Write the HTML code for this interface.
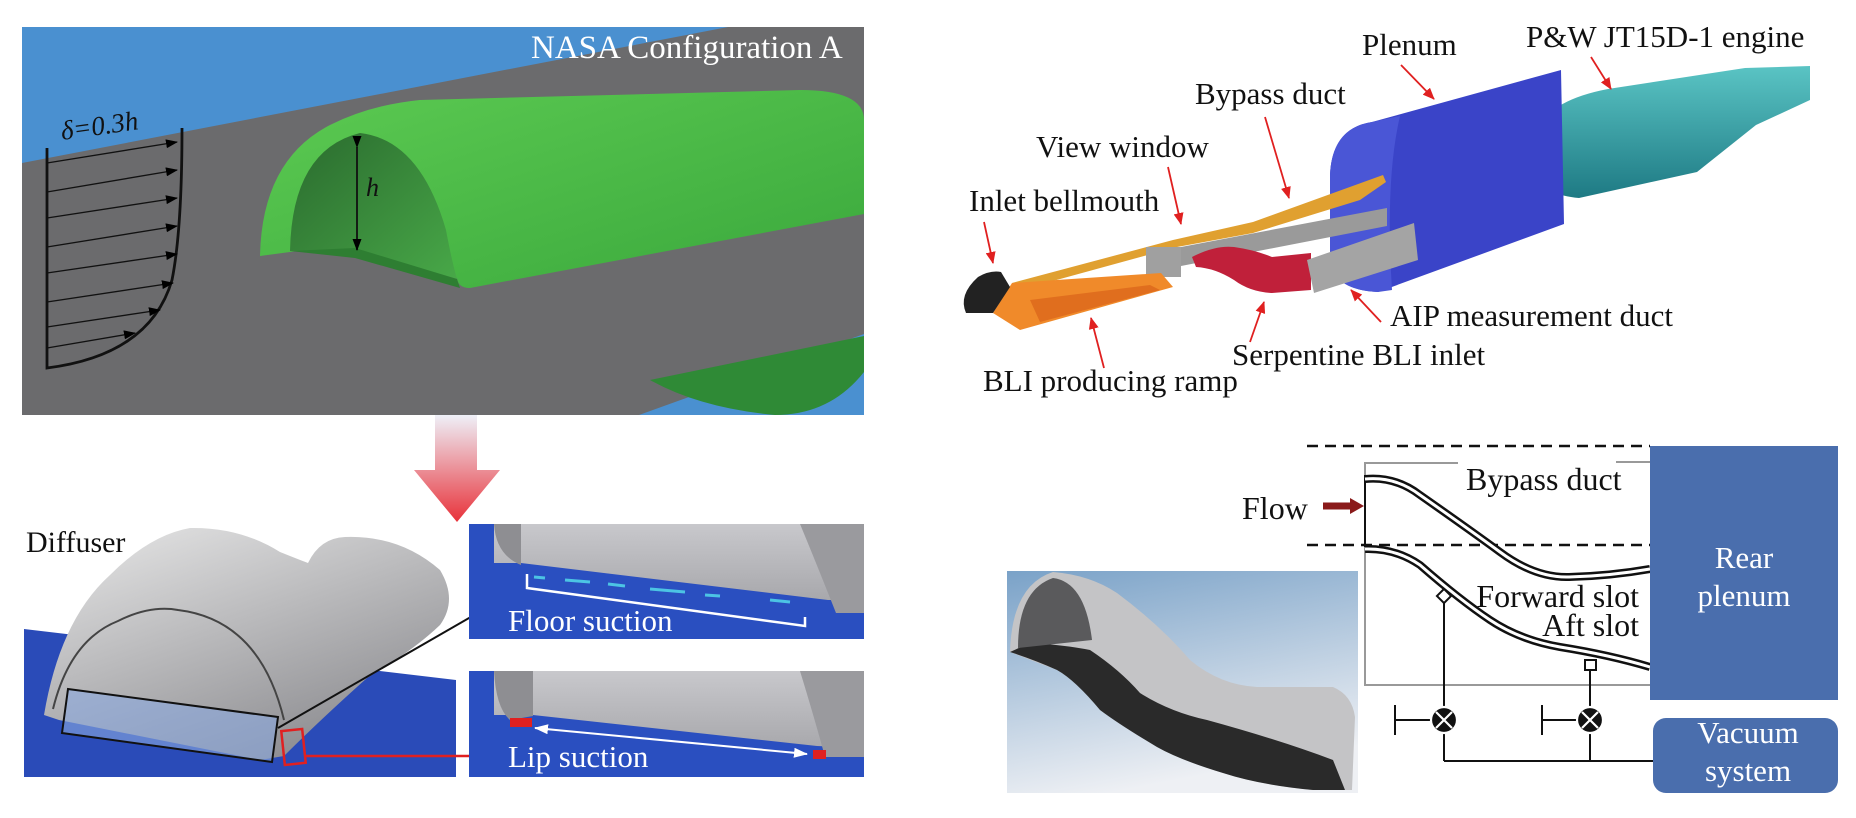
<!DOCTYPE html>
<html><head><meta charset="utf-8"><style>
html,body{margin:0;padding:0;background:#fff;width:1856px;height:818px;overflow:hidden}
svg{display:block}
text{font-family:"Liberation Serif",serif}
</style></head><body>
<svg width="1856" height="818" viewBox="0 0 1856 818" xmlns="http://www.w3.org/2000/svg">
<defs>
<linearGradient id="pk" x1="0" y1="0" x2="0" y2="1"><stop offset="0" stop-color="#eef0f8"/><stop offset="1" stop-color="#e8323a"/></linearGradient>
<linearGradient id="gr" x1="0" y1="0" x2="1" y2="1"><stop offset="0" stop-color="#5cca52"/><stop offset="1" stop-color="#3aa83c"/></linearGradient>
<linearGradient id="gin" x1="0" y1="0" x2="1" y2="1"><stop offset="0" stop-color="#2a6a2e"/><stop offset="1" stop-color="#48a848"/></linearGradient>
<linearGradient id="dm" x1="0" y1="0" x2="0.6" y2="1"><stop offset="0" stop-color="#e8e8e8"/><stop offset="1" stop-color="#8e8e92"/></linearGradient>
<linearGradient id="ph" x1="0" y1="0" x2="0.3" y2="1"><stop offset="0" stop-color="#7aa2c8"/><stop offset="1" stop-color="#eef0f4"/></linearGradient>
<linearGradient id="tl" x1="0" y1="0" x2="0" y2="1"><stop offset="0" stop-color="#5ac4c4"/><stop offset="1" stop-color="#1e7a84"/></linearGradient>
<linearGradient id="gs" x1="0" y1="0" x2="0" y2="1"><stop offset="0" stop-color="#c8c8cc"/><stop offset="1" stop-color="#a8a8ac"/></linearGradient>
<marker id="ab" markerWidth="12" markerHeight="9" refX="11" refY="4.5" orient="auto" markerUnits="userSpaceOnUse"><path d="M0,0 L12,4.5 L0,9z" fill="#000"/></marker>
<marker id="ar" markerWidth="12" markerHeight="10" refX="11" refY="5" orient="auto" markerUnits="userSpaceOnUse"><path d="M0,0 L12,5 L0,10z" fill="#e02020"/></marker>
<marker id="aw" markerWidth="14" markerHeight="10" refX="13" refY="5" orient="auto" markerUnits="userSpaceOnUse"><path d="M0,0 L14,5 L0,10z" fill="#fff"/></marker>
<marker id="awr" markerWidth="14" markerHeight="10" refX="1" refY="5" orient="auto" markerUnits="userSpaceOnUse"><path d="M14,0 L0,5 L14,10z" fill="#fff"/></marker>
</defs>

<!-- top-left panel -->
<rect x="22" y="27" width="842" height="388" fill="#4a90d0"/>
<polygon points="22,163 728,27 864,27 864,334 639,415 22,415" fill="#6b6b6d"/>
<path d="M650,380 L864,336 L864,372 Q830,415 775,415 Q700,408 650,380z" fill="#2f8a36"/>
<path d="M260,256 Q262,160 330,125 Q370,105 420,100 L800,90 Q864,90 864,120 L864,214 L470,288 Q458,288 457,278 L355,250 Q320,248 290,252z" fill="url(#gr)"/>
<path d="M290,251 Q292,150 360,133 Q420,140 446,230 Q452,262 457,279 L355,250z" fill="url(#gin)"/>
<path d="M290,251 L355,248 L457,279 L460,288 L355,258z" fill="#2e7e32"/>
<text x="531" y="58" font-size="33" fill="#fff">NASA Configuration A</text>
<g stroke="#111" stroke-width="1.3" fill="none">
<path d="M47,148 L47,368 Q150,355 172,280 Q182,230 182,128" stroke-width="2.8"/>
<line x1="47" y1="163" x2="177" y2="142" marker-end="url(#ab)"/>
<line x1="47" y1="192" x2="177" y2="170" marker-end="url(#ab)"/>
<line x1="47" y1="218" x2="177" y2="198" marker-end="url(#ab)"/>
<line x1="47" y1="247" x2="177" y2="226" marker-end="url(#ab)"/>
<line x1="47" y1="273" x2="177" y2="254" marker-end="url(#ab)"/>
<line x1="47" y1="302" x2="173" y2="283" marker-end="url(#ab)"/>
<line x1="47" y1="327" x2="160" y2="310" marker-end="url(#ab)"/>
<line x1="47" y1="348" x2="135" y2="333" marker-end="url(#ab)"/>
<line x1="357" y1="147" x2="357" y2="250" stroke-width="1.8" marker-end="url(#ab)" marker-start="url(#ab)"/>
</g>
<text x="62" y="140" font-size="27" fill="#111" font-style="italic" transform="rotate(-8 62 140)">δ=0.3h</text>
<text x="366" y="196" font-size="26" fill="#111" font-style="italic">h</text>

<!-- pink arrow -->
<polygon points="435,415 477,415 477,470 500,470 457,522 414,470 435,470" fill="url(#pk)"/>

<!-- diffuser panel -->
<polygon points="24,629 456,680 456,777 24,777" fill="#2a4bb8"/>
<path d="M44,715 Q60,620 110,575 Q150,535 190,528 Q240,527 280,552 Q300,560 308,563 Q320,538 345,537 Q400,535 440,570 Q458,600 440,625 Q414,650 367,678 Q320,720 284,756 L260,760 L59,720z" fill="url(#dm)"/>
<path d="M53,709 Q70,640 118,621 Q150,605 178,610 Q260,620 284,720" fill="none" stroke="#444" stroke-width="2"/>
<polygon points="68,689 278,717 272,762 62,733" fill="#8aa8e0" fill-opacity="0.6" stroke="#111" stroke-width="2"/>
<rect x="283" y="730" width="21" height="34" fill="none" stroke="#e02020" stroke-width="2.5" transform="rotate(-6 293 747)"/>
<text x="26" y="552" font-size="30" fill="#111">Diffuser</text>
<line x1="278" y1="728" x2="509" y2="595" stroke="#111" stroke-width="2" marker-end="url(#ab)"/>
<line x1="304" y1="756" x2="489" y2="756" stroke="#e02020" stroke-width="2.5" marker-end="url(#ar)"/>

<!-- floor suction panel -->
<rect x="469" y="524" width="395" height="115" fill="#2a4fc0"/>
<path d="M469,524 L864,524 L864,600 L828,600 L521,563 L494,563 L494,524z" fill="url(#gs)"/>
<path d="M494,524 Q496,555 521,565 L521,524z" fill="#8e8e92"/>
<path d="M800,524 Q815,560 836,613 L864,613 L864,524z" fill="#9a9a9e"/>
<g stroke="#4cc4e4" stroke-width="3"><line x1="534" y1="577" x2="545" y2="578"/><line x1="565" y1="580" x2="590" y2="582"/><line x1="608" y1="584" x2="625" y2="586"/><line x1="650" y1="589" x2="685" y2="592"/><line x1="705" y1="595" x2="720" y2="596"/><line x1="770" y1="600" x2="790" y2="602"/></g>
<polyline points="527,574 527,588 805,626 805,617" fill="none" stroke="#fff" stroke-width="2.5"/>
<text x="508" y="631" font-size="31" fill="#fff">Floor suction</text>

<!-- lip suction panel -->
<rect x="469" y="671" width="395" height="106" fill="#2a4fc0"/>
<path d="M469,671 L864,671 L864,748 L817,746 L533,715 L494,715 L494,671z" fill="url(#gs)"/>
<path d="M494,671 Q496,708 510,720 L533,716 L533,671z" fill="#8e8e92"/>
<path d="M800,671 Q815,720 825,757 L864,757 L864,671z" fill="#9a9a9e"/>
<rect x="510" y="718" width="22" height="9" fill="#e02020"/><rect x="813" y="750" width="13" height="9" fill="#e02020"/>
<line x1="535" y1="728" x2="807" y2="754" stroke="#fff" stroke-width="2" marker-start="url(#awr)" marker-end="url(#aw)"/>
<text x="508" y="767" font-size="31" fill="#fff">Lip suction</text>

<!-- top right engine rig -->
<path d="M1537,130 Q1550,100 1608,89 L1745,68 L1810,66 L1810,100 L1756,125 L1697,172 L1579,198 Q1545,195 1543,177 Q1533,150 1537,130z" fill="url(#tl)"/>
<path d="M1330,175 Q1332,128 1372,122 L1561,70 L1564,224 L1378,292 Q1335,290 1330,262 Z" fill="#3a44c8"/>
<path d="M1330,175 Q1332,128 1372,122 L1400,116 Q1385,180 1392,290 L1378,292 Q1335,290 1330,262Z" fill="#4a56d6"/>
<polygon points="1012,283 1173,240 1253,222 1383,175 1386,182 1360,200 1253,233 1177,247 1020,290" fill="#e0a030"/>
<polygon points="1181,247 1387,208 1387,226 1181,266" fill="#9a9a9a"/>
<rect x="1146" y="247" width="35" height="30" fill="#a0a0a0"/>
<polygon points="1012,283 1161,273 1173,287 1020,330 993,313" fill="#f08a2a"/>
<polygon points="1030,300 1150,285 1160,290 1040,322" fill="#e06e1e"/>
<path d="M1192,257 Q1215,245 1234,247 Q1255,250 1272,257 L1311,253 L1311,290 L1272,293 Q1250,292 1234,280 Q1215,268 1196,267z" fill="#c0203a"/>
<path d="M1307,260 L1414,223 L1418,260 L1314,293z" fill="#a4a4a4"/>
<path d="M978,277 Q990,270 1001,272 L1010,287 L993,313 L966,313 Q958,295 978,277z" fill="#222"/>
<g font-size="31" fill="#111">
<text x="1526" y="47">P&amp;W JT15D-1 engine</text>
<text x="1362" y="55">Plenum</text>
<text x="1195" y="104">Bypass duct</text>
<text x="1036" y="157">View window</text>
<text x="969" y="211">Inlet bellmouth</text>
<text x="1390" y="326">AIP measurement duct</text>
<text x="1232" y="365">Serpentine BLI inlet</text>
<text x="983" y="391">BLI producing ramp</text>
</g>
<g stroke="#e02020" stroke-width="1.8">
<line x1="1591" y1="57" x2="1611" y2="89" marker-end="url(#ar)"/>
<line x1="1401" y1="65" x2="1434" y2="99" marker-end="url(#ar)"/>
<line x1="1265" y1="117" x2="1289" y2="198" marker-end="url(#ar)"/>
<line x1="1168" y1="167" x2="1181" y2="224" marker-end="url(#ar)"/>
<line x1="984" y1="222" x2="993" y2="263" marker-end="url(#ar)"/>
<line x1="1381" y1="322" x2="1351" y2="290" marker-end="url(#ar)"/>
<line x1="1250" y1="342" x2="1264" y2="302" marker-end="url(#ar)"/>
<line x1="1104" y1="368" x2="1091" y2="318" marker-end="url(#ar)"/>
</g>

<!-- photo -->
<rect x="1007" y="571" width="351" height="222" fill="url(#ph)"/>
<path d="M1010,652 Q1012,585 1053,572 Q1090,575 1117,593 Q1160,625 1190,660 Q1220,685 1257,687 L1333,687 Q1352,695 1355,717 L1352,790 L1313,790 Q1260,785 1223,773 Q1180,760 1157,747 Q1120,725 1100,710 Q1075,680 1057,670 Q1030,660 1010,652z" fill="#c4c4c6"/>
<path d="M1030,643 Q1065,645 1090,650 Q1120,670 1140,693 Q1170,712 1207,720 Q1280,740 1333,760 L1345,790 L1313,790 Q1260,785 1223,773 Q1180,760 1157,747 Q1120,725 1100,710 Q1075,680 1057,670 Q1035,660 1010,652z" fill="#2a2a2a"/>
<path d="M1018,648 Q1018,590 1053,578 Q1085,582 1092,640 Z" fill="#5a5a5c"/>

<!-- schematic -->
<g stroke="#111" stroke-width="2.5" stroke-dasharray="11,7"><line x1="1307" y1="446" x2="1650" y2="446"/><line x1="1307" y1="545" x2="1650" y2="545"/></g>
<polyline points="1365,475 1365,463 1458,463" fill="none" stroke="#999" stroke-width="2"/>
<line x1="1616" y1="462" x2="1650" y2="462" stroke="#999" stroke-width="2"/>
<polyline points="1365,547 1365,685 1650,685" fill="none" stroke="#999" stroke-width="2"/>
<line x1="1365" y1="475" x2="1365" y2="547" stroke="#111" stroke-width="2"/>
<g fill="none" stroke="#111" stroke-width="8"><path d="M1365,479 Q1395,476 1420,495 Q1470,530 1500,552 Q1535,578 1569,577 Q1610,576 1650,569"/><path d="M1365,549 Q1395,548 1420,565 Q1460,600 1490,620 Q1520,640 1560,647 Q1610,655 1650,667"/></g>
<g fill="none" stroke="#fff" stroke-width="3"><path d="M1365,479 Q1395,476 1420,495 Q1470,530 1500,552 Q1535,578 1569,577 Q1610,576 1650,569"/><path d="M1365,549 Q1395,548 1420,565 Q1460,600 1490,620 Q1520,640 1560,647 Q1610,655 1650,667"/></g>
<g font-size="32" fill="#111">
<text x="1466" y="490">Bypass duct</text>
<text x="1639" y="607" text-anchor="end">Forward slot</text>
<text x="1639" y="636" text-anchor="end">Aft slot</text>
<text x="1242" y="519">Flow</text>
</g>
<line x1="1323" y1="506" x2="1352" y2="506" stroke="#8a1a1a" stroke-width="7"/><polygon points="1350,498 1364,506 1350,514" fill="#8a1a1a"/>
<rect x="1650" y="446" width="188" height="254" fill="#4a6ead"/>
<text x="1744" y="568" font-size="31" fill="#fff" text-anchor="middle">Rear</text>
<text x="1744" y="606" font-size="31" fill="#fff" text-anchor="middle">plenum</text>
<rect x="1653" y="718" width="185" height="75" rx="13" fill="#4a6ead"/>
<text x="1748" y="743" font-size="31" fill="#fff" text-anchor="middle">Vacuum</text>
<text x="1748" y="781" font-size="31" fill="#fff" text-anchor="middle">system</text>
<g stroke="#111" stroke-width="2" fill="none">
<rect x="1439" y="591" width="10" height="10" transform="rotate(45 1444 596)" fill="#fff"/>
<rect x="1585" y="660" width="11" height="10" fill="#fff"/>
<line x1="1444" y1="603" x2="1444" y2="708"/><line x1="1590" y1="670" x2="1590" y2="708"/>
<line x1="1444" y1="732" x2="1444" y2="761"/><line x1="1590" y1="732" x2="1590" y2="761"/>
<line x1="1444" y1="761" x2="1653" y2="761"/>
<line x1="1395" y1="720" x2="1431" y2="720"/><line x1="1395" y1="705" x2="1395" y2="735"/>
<line x1="1542" y1="720" x2="1577" y2="720"/><line x1="1542" y1="705" x2="1542" y2="735"/>
</g>
<g stroke="#fff" stroke-width="2.2"><circle cx="1444" cy="720" r="13" fill="#111"/><circle cx="1590" cy="720" r="13" fill="#111"/>
<line x1="1436" y1="712" x2="1452" y2="728"/><line x1="1452" y1="712" x2="1436" y2="728"/>
<line x1="1582" y1="712" x2="1598" y2="728"/><line x1="1598" y1="712" x2="1582" y2="728"/></g>
</svg>
</body></html>
